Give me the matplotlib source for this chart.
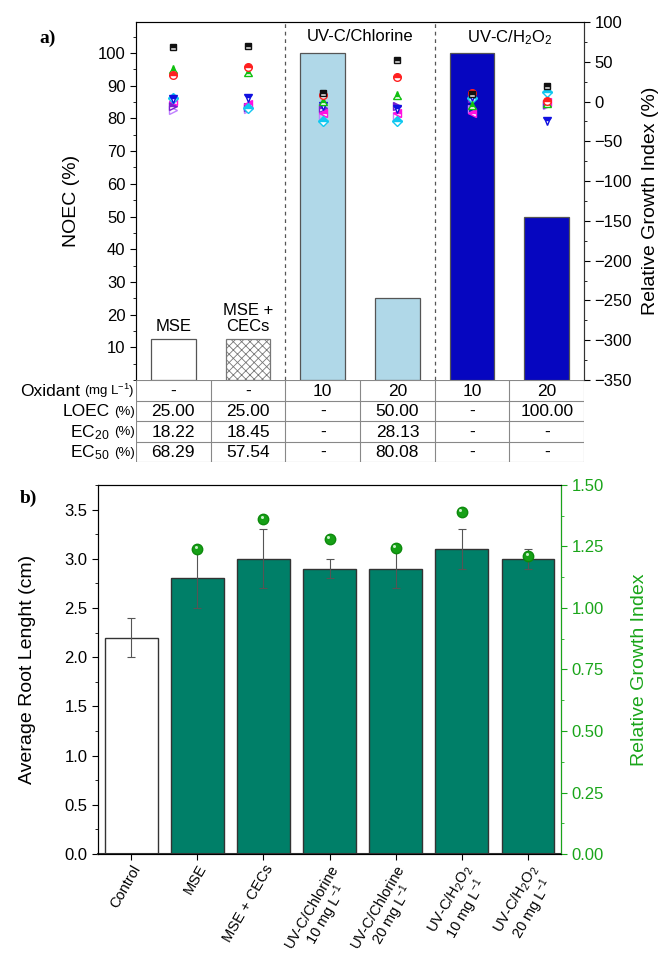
import numpy as np
import matplotlib
matplotlib.use('Agg')
import matplotlib.pyplot as plt
import matplotlib.transforms as mtrans
from matplotlib.ticker import MultipleLocator

plt.rcParams['font.family'] = ['Liberation Sans', 'DejaVu Sans']
plt.rcParams['mathtext.fontset'] = 'custom'
plt.rcParams['mathtext.rm'] = 'Liberation Sans'
plt.rcParams['mathtext.it'] = 'Liberation Sans:italic'
plt.rcParams['hatch.linewidth'] = 0.6

# ---- panel a data ----
samples = ['MSE', 'MSE +\nCECs', '', '', '', '']
noec = [12.5, 12.5, 100, 25, 100, 50]
bar_cols = ['white', 'white', '#b0d8e8', '#b0d8e8', '#0606c0', '#0606c0']
hatches = ['', 'xxxx', '', '', '', '']

# relative growth index (%) per test species
rgi_sq = [69, 70, 11, 52, 10, 19]
rgi_circ = [33, 43, 8, 31, 11, 1]
rgi_up = [41, 37, 1, 8, -4, -2]
rgi_down = [3, 4, -5, -9, 6, -24]
rgi_diam = [5, -8, -24, -24, 4, 12]
rgi_left = [1, -3, -14, -15, -15, 0]
rgi_right = [-6, -7, -8, -6, 4, -3]
rgi_open = [-11, -9, -18, -18, -10, -4]

row_names = ['Oxidant', 'LOEC', 'EC$_{20}$', 'EC$_{50}$']
row_units = ['(mg L$^{-1}$)', '(%)', '(%)', '(%)']
oxidant = ['-', '-', '10', '20', '10', '20']
loec = ['25.00', '25.00', '-', '50.00', '-', '100.00']
ec20 = ['18.22', '18.45', '-', '28.13', '-', '-']
ec50 = ['68.29', '57.54', '-', '80.08', '-', '-']

# ---- panel b data ----
groups = ['Control', 'MSE', 'MSE + CECs',
          'UV-C/Chlorine\n10 mg L$^{-1}$', 'UV-C/Chlorine\n20 mg L$^{-1}$',
          'UV-C/H$_2$O$_2$\n10 mg L$^{-1}$', 'UV-C/H$_2$O$_2$\n20 mg L$^{-1}$']
root_len = [2.2, 2.8, 3.0, 2.9, 2.9, 3.1, 3.0]
root_err = [0.2, 0.3, 0.3, 0.1, 0.2, 0.2, 0.1]
rgi_b = [1.24, 1.36, 1.28, 1.245, 1.39, 1.21]

fig = plt.figure(figsize=(6.61, 9.64), dpi=100)

# ================= panel a =================
ax = fig.add_axes([0.2057, 0.6058, 0.678, 0.3714])
x = np.arange(len(noec))
ax.bar(x, noec, 0.6, color=bar_cols, edgecolor='#555555', linewidth=0.9,
       hatch=hatches, zorder=2)
for b in ax.patches[1:2]:
    b.set_edgecolor('#777777')
ax.set_xlim(-0.5, 5.5)
ax.set_ylim(0, 109.5)
ax.set_xticks([])
ax.yaxis.set_minor_locator(MultipleLocator(5))
ax.set_yticks(np.arange(10, 101, 10))
ax.tick_params(axis='y', direction='out', labelsize=12, length=4)
ax.tick_params(axis='y', which='minor', length=2)
ax.set_ylabel('NOEC (%)', fontsize=14)
ax.yaxis.set_label_coords(-0.125, 0.5)
ax.spines['bottom'].set_visible(False)
for s in ['left', 'top', 'right']:
    ax.spines[s].set_color('#555555')
for xv in [1.5, 3.5]:
    ax.axvline(xv, color='#555555', ls=(0, (3, 3)), lw=0.9)

ax.text(0, noec[0] + 1.5, samples[0], ha='center', va='bottom', fontsize=12)
ax.text(1, noec[1] + 1.5, samples[1], ha='center', va='bottom', fontsize=12,
        linespacing=1.1)
ax.text(2.5, 107.5, 'UV-C/Chlorine', ha='center', va='top', fontsize=12)
ax.text(4.5, 107.5, 'UV-C/H$_2$O$_2$', ha='center', va='top', fontsize=12)

ax2 = ax.twinx()
ax2.set_ylim(-350, 100)
ax2.yaxis.set_major_locator(MultipleLocator(50))
ax2.yaxis.set_minor_locator(MultipleLocator(25))
ax2.tick_params(axis='y', direction='out', labelsize=12, length=4)
ax2.tick_params(axis='y', which='minor', length=2)
ax2.set_ylabel('Relative Growth Index (%)', fontsize=14)
ax2.yaxis.set_label_coords(1.13, 0.5)
ax2.spines['bottom'].set_visible(False)
ax2.spines['right'].set_color('#333333')

ms = 5.5
ax2.plot(x, rgi_open, '>', ms=ms, mfc='none', mec='#c080ff', ls='none')
ax2.plot(x, rgi_right, '>', ms=ms, color='#7a1fd0', fillstyle='top',
         markerfacecoloralt='white', ls='none')
ax2.plot(x, rgi_left, '<', ms=ms, color='#ff10e0', fillstyle='top',
         markerfacecoloralt='white', ls='none')
ax2.plot(x, rgi_diam, 'D', ms=ms - 0.8, color='#10c8f0', fillstyle='top',
         markerfacecoloralt='white', ls='none')
ax2.plot(x, rgi_down, 'v', ms=ms, color='#1010e0', fillstyle='top',
         markerfacecoloralt='white', ls='none')
ax2.plot(x, rgi_up, '^', ms=ms, color='#10c010', fillstyle='top',
         markerfacecoloralt='white', ls='none')
ax2.plot(x, rgi_circ, 'o', ms=ms, color='#ff2020', fillstyle='top',
         markerfacecoloralt='white', ls='none')
ax2.plot(x, rgi_sq, 's', ms=ms - 0.5, color='#111111', fillstyle='top',
         markerfacecoloralt='#dddddd', ls='none')

# table under panel a
axt = fig.add_axes([0.2057, 0.5207, 0.678, 0.0851])
axt.set_xlim(-0.5, 5.5)
axt.set_ylim(4, 0)
axt.axis('off')
axt.hlines(np.arange(0, 5), -0.5, 5.5, color='#888888', lw=0.8)
axt.vlines(np.arange(-0.5, 6.0, 1.0), 0, 4, color='#888888', lw=0.8)
for r, vals in enumerate([oxidant, loec, ec20, ec50]):
    for c, v in enumerate(vals):
        axt.text(c, r + 0.55, v, ha='center', va='center', fontsize=12.5)
    small = axt.text(-0.52, r + 0.55, row_units[r], ha='right', va='center',
                     fontsize=9.5, clip_on=False)
    axt.annotate(row_names[r], xy=(0, 0.5), xycoords=small,
                 xytext=(-3, 0), textcoords='offset points',
                 ha='right', va='center', fontsize=12.5)

fig.text(0.06, 0.955, 'a)', fontsize=14, fontweight='bold',
         family='Liberation Serif')

# ================= panel b =================
bx = fig.add_axes([0.1483, 0.1141, 0.7005, 0.3828])
xb = np.arange(len(groups))
teal = '#007f68'
bcols = ['white'] + [teal] * (len(groups) - 1)
bx.bar(xb, root_len, 0.8, color=bcols, edgecolor='#333333', linewidth=1.0,
       zorder=2)
bx.errorbar(xb, root_len, yerr=root_err, fmt='none', ecolor='#555555',
            elinewidth=0.8, capsize=3, capthick=0.8, zorder=3)
bx.set_xlim(-0.5, 6.5)
bx.set_ylim(0, 3.75)
bx.yaxis.set_major_locator(MultipleLocator(0.5))
bx.yaxis.set_minor_locator(MultipleLocator(0.25))
bx.yaxis.set_major_formatter(matplotlib.ticker.FormatStrFormatter('%.1f'))
bx.tick_params(axis='y', direction='out', labelsize=12, length=4)
bx.tick_params(axis='y', which='minor', length=2)
bx.set_xticks(xb)
bx.set_xticklabels(groups, rotation=60, ha='right', rotation_mode='anchor',
                   multialignment='center', fontsize=10.5, linespacing=0.95)
bx.tick_params(axis='x', direction='out', length=4, pad=2)
bx.set_ylabel('Average Root Lenght (cm)', fontsize=14)
bx.yaxis.set_label_coords(-0.135, 0.5)
bx.spines['bottom'].set_linewidth(1.5)
bx.spines['bottom'].set_color('#333333')

green = '#1aa51a'
bx2 = bx.twinx()
bx2.set_ylim(0, 1.5)
bx2.yaxis.set_major_locator(MultipleLocator(0.25))
bx2.yaxis.set_minor_locator(MultipleLocator(0.125))
bx2.yaxis.set_major_formatter(matplotlib.ticker.FormatStrFormatter('%.2f'))
bx2.tick_params(axis='y', direction='out', labelsize=12, length=4,
                colors=green, which='both')
bx2.tick_params(axis='y', which='minor', length=2)
bx2.spines['right'].set_color(green)
bx2.set_ylabel('Relative Growth Index', fontsize=14, color=green)
bx2.yaxis.set_label_coords(1.15, 0.5)
bx2.plot(xb[1:], rgi_b, 'o', ms=7.5, color='#16a016', mec='#0d8a0d',
         ls='none', zorder=4)
hl = mtrans.offset_copy(bx2.transData, fig=fig, x=-1.0, y=1.4, units='points')
bx2.plot(xb[1:], rgi_b, 'o', ms=2.2, color='#c8f0c8', mec='none',
         ls='none', transform=hl, zorder=5)

fig.text(0.03, 0.478, 'b)', fontsize=14, fontweight='bold',
         family='Liberation Serif')

plt.savefig('out.png', dpi=100)
plt.close()
